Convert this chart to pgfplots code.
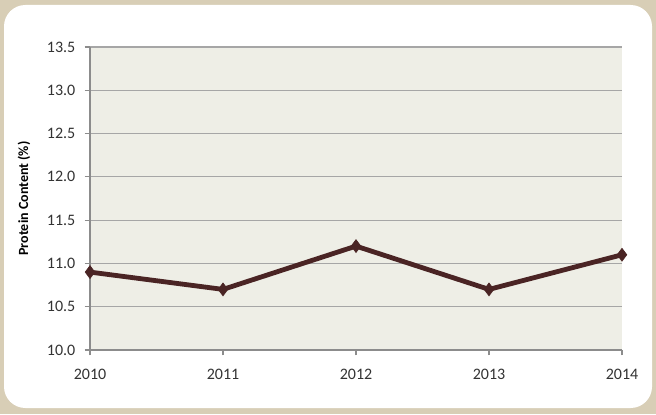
\documentclass[border=0pt]{standalone}
\usepackage{pgfplots}
\pgfplotsset{compat=1.18}
\usepackage{fontspec}
\setmainfont{Carlito}
\definecolor{frametan}{HTML}{D8CEB6}
\definecolor{plotbg}{HTML}{EEEEE6}
\definecolor{gridc}{HTML}{A6A6A6}
\definecolor{axc}{HTML}{8C8C8C}
\definecolor{linec}{HTML}{4A2424}
\begin{document}
\begin{tikzpicture}
\fill[frametan] (0pt,0pt) rectangle (492pt,310.5pt);
\fill[white,rounded corners=16pt] (3pt,4.5pt) rectangle (489pt,306.75pt);
\begin{axis}[
  at={(67.5pt,48pt)}, anchor=origin,
  scale only axis, width=399pt, height=227.25pt,
  xmin=2010, xmax=2014, ymin=10, ymax=13.5,
  xtick={2010,2011,2012,2013,2014},
  ytick={10,10.5,...,13.5},
  yticklabel style={/pgf/number format/.cd,fixed,fixed zerofill,precision=1, /tikz/xshift=-3.5pt},
  xticklabel style={/pgf/number format/1000 sep={}, yshift=-6.5pt},
  /pgf/number format/assume math mode=true,
  ticklabel style={font=\fontsize{12}{14}\selectfont, text=black!80},
  axis background/.style={fill=plotbg},
  axis x line*=bottom, axis y line*=left,
  axis line style={axc, line width=0.8pt, -},
  ymajorgrids, grid style={gridc, line width=0.8pt},
  tick style={axc, line width=0.8pt},
  tick align=outside, major tick length=4pt,
  ylabel={\bfseries Protein Content (\%)},
  ylabel style={font=\fontsize{10.5}{12}\selectfont, at={(axis description cs:-0.124,0.5)}, anchor=center},
  clip=false,
]
\addplot[linec, line width=3.6pt, mark=diamond*, mark size=4.8pt, mark options={fill=linec, line width=0.5pt}]
 coordinates {(2010,10.9) (2011,10.7) (2012,11.2) (2013,10.7) (2014,11.1)};
\end{axis}
\end{tikzpicture}
\end{document}
